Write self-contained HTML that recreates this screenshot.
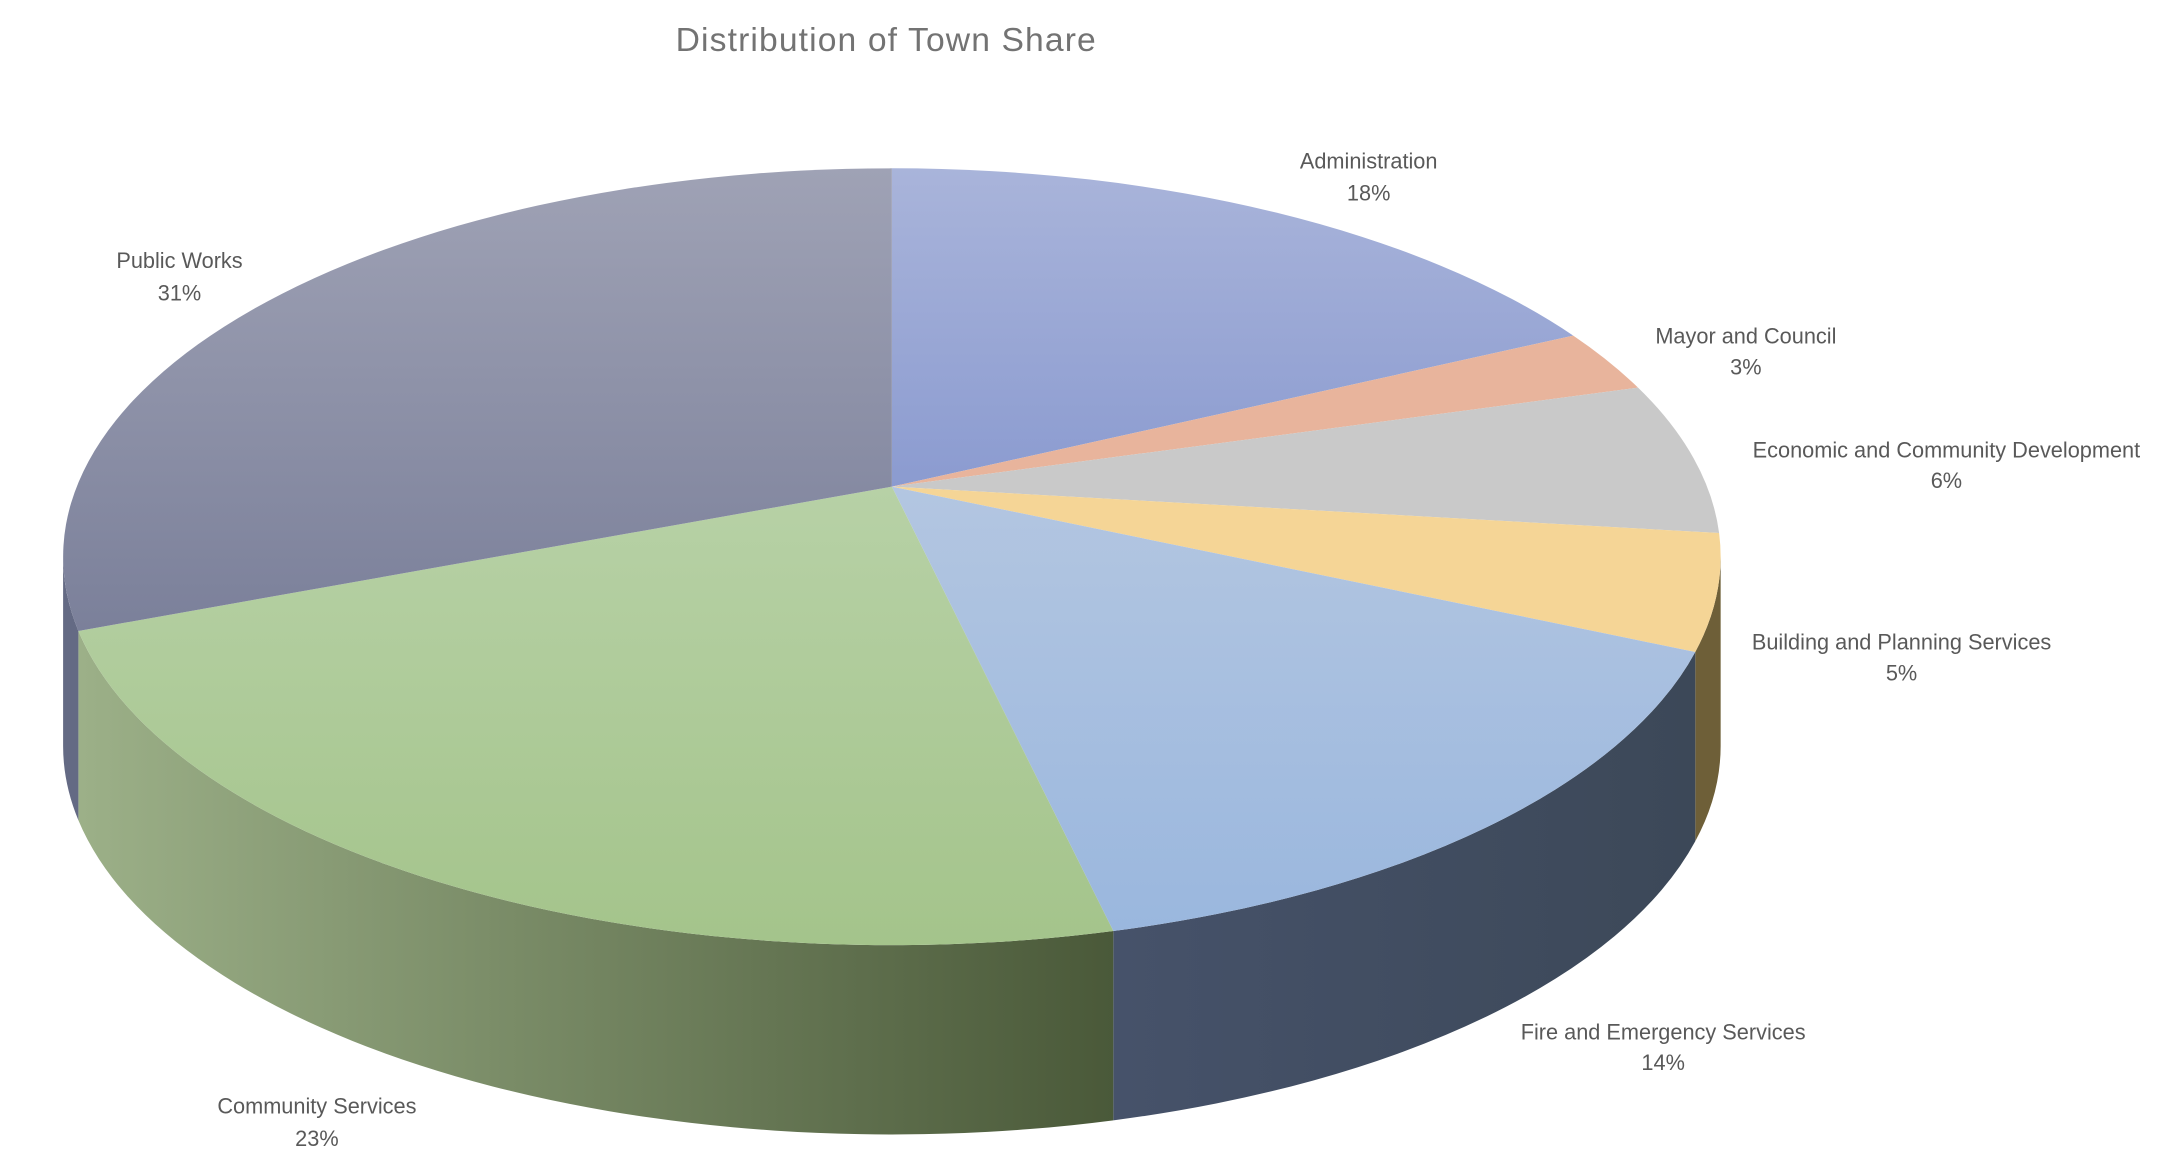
<!DOCTYPE html>
<html><head><meta charset="utf-8"><style>
html,body{margin:0;padding:0;background:#fff;}
svg{display:block;}
text{font-family:"Liberation Sans",sans-serif;fill:#595959;}
</style></head><body>
<svg width="2175" height="1156" viewBox="0 0 1551 824.3" xmlns="http://www.w3.org/2000/svg">
<defs>
<linearGradient id="gPub" x1="0" y1="0" x2="0" y2="1"><stop offset="0" stop-color="#9fa2b5"/><stop offset="1" stop-color="#7b809a"/></linearGradient>
<linearGradient id="gAdm" x1="0" y1="0" x2="0" y2="1"><stop offset="0" stop-color="#a9b4da"/><stop offset="1" stop-color="#8b9bd0"/></linearGradient>
<linearGradient id="gFire" x1="0" y1="0" x2="0" y2="1"><stop offset="0" stop-color="#b3c6e1"/><stop offset="1" stop-color="#9ab7de"/></linearGradient>
<linearGradient id="gCom" x1="0" y1="0" x2="0" y2="1"><stop offset="0" stop-color="#b7d1a6"/><stop offset="1" stop-color="#a4c48b"/></linearGradient>
<linearGradient id="gComS" x1="0" y1="0" x2="1" y2="0"><stop offset="0" stop-color="#9cb088"/><stop offset="1" stop-color="#4a5939"/></linearGradient>
<linearGradient id="gFireS" x1="0" y1="0" x2="1" y2="0"><stop offset="0" stop-color="#46526a"/><stop offset="1" stop-color="#3c4858"/></linearGradient>
</defs>
<text x="632" y="30" font-size="24" letter-spacing="0.8" text-anchor="middle" dominant-baseline="middle" style="fill:#737373">Distribution  of Town Share</text>

<path d="M1227,397 A591,277 0 0 1 1208.9,464.9 L1208.9,599.9 A591,277 0 0 0 1227,532 Z" fill="#6e5f38"/>
<path d="M1208.9,464.9 A591,277 0 0 1 793.9,663.9 L793.9,798.9 A591,277 0 0 0 1208.9,599.9 Z" fill="url(#gFireS)"/>
<path d="M793.9,663.9 A591,277 0 0 1 55.9,449.9 L55.9,584.9 A591,277 0 0 0 793.9,798.9 Z" fill="url(#gComS)"/>
<path d="M55.9,449.9 A591,277 0 0 1 45,397 L45,532 A591,277 0 0 0 55.9,584.9 Z" fill="#646a84"/>

<path d="M636,347 L636,120 A591,277 0 0 1 1121.9,239.3 Z" fill="url(#gAdm)"/>
<path d="M636,347 L1121.9,239.3 A591,277 0 0 1 1168.1,276.4 Z" fill="#e8b49c"/>
<path d="M636,347 L1168.1,276.4 A591,277 0 0 1 1225.9,380.1 Z" fill="#c9c9c9"/>
<path d="M636,347 L1225.9,380.1 A591,277 0 0 1 1208.9,464.9 Z" fill="#f5d596"/>
<path d="M636,347 L1208.9,464.9 A591,277 0 0 1 793.9,663.9 Z" fill="url(#gFire)"/>
<path d="M636,347 L793.9,663.9 A591,277 0 0 1 55.9,449.9 Z" fill="url(#gCom)"/>
<path d="M636,347 L55.9,449.9 A591,277 0 0 1 636,120 Z" fill="url(#gPub)"/>

<g font-size="15.5" text-anchor="middle" dominant-baseline="middle">
<text x="976" y="116">Administration</text><text x="976" y="139">18%</text>
<text x="1245" y="241">Mayor and Council</text><text x="1245" y="263">3%</text>
<text x="1388" y="322">Economic and Community Development</text><text x="1388" y="344">6%</text>
<text x="1356" y="459">Building and Planning Services</text><text x="1356" y="481">5%</text>
<text x="1186" y="737">Fire and Emergency Services</text><text x="1186" y="759">14%</text>
<text x="226" y="790">Community Services</text><text x="226" y="813">23%</text>
<text x="128" y="187">Public Works</text><text x="128" y="210">31%</text>
</g>
</svg>
</body></html>
